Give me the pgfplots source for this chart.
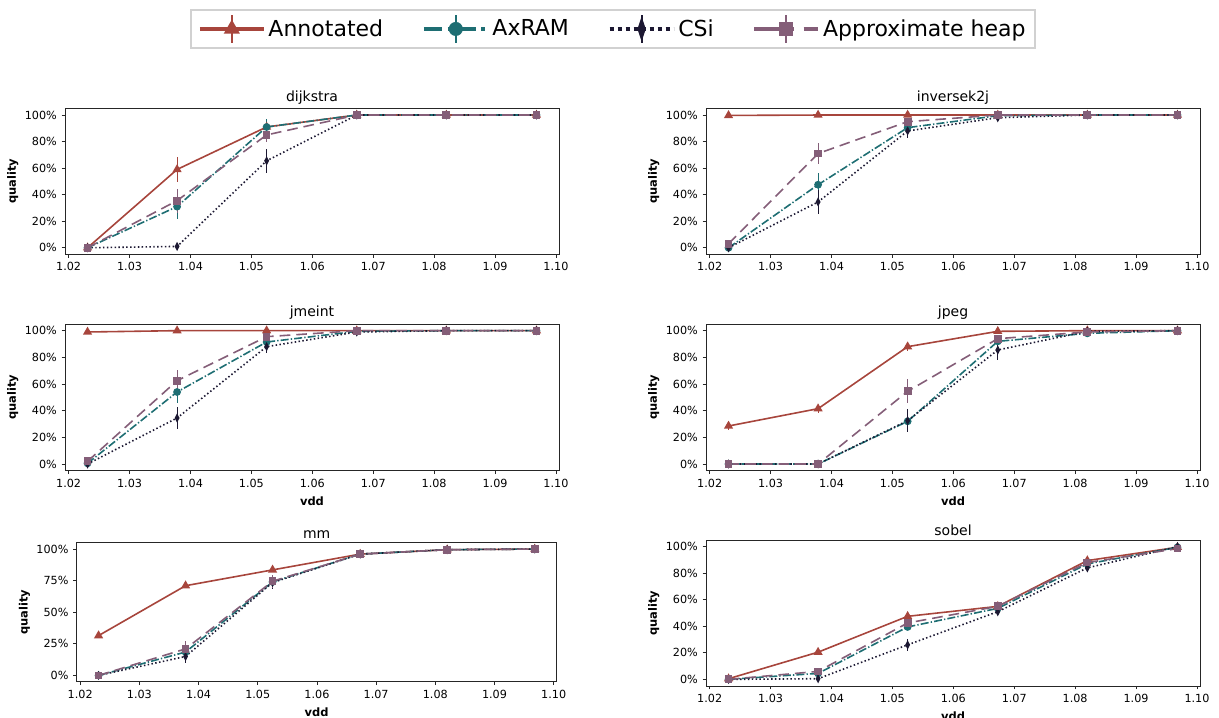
\documentclass[border=0pt]{standalone}
\usepackage{fontspec}
\setmainfont{DejaVu Sans}
\usepackage{pgfplots}
\usepackage{pgfplotstable}
\pgfplotsset{compat=1.18}

\definecolor{annoC}{RGB}{167,69,60}
\definecolor{axramC}{RGB}{30,110,115}
\definecolor{csiC}{RGB}{28,24,50}
\definecolor{heapC}{RGB}{132,94,120}

% columns: x, Annotated (a,ae), AxRAM (b,be), CSi (c,ce), Approximate heap (d,de)
\pgfplotstableread{
x a ae b be c ce d de
1.0231 0 0.5 0 0.5 0 0.3 0 0.5
1.0378 59 9.5 31 9 1 0.5 35.5 9
1.0525 91 2 91 6 65.5 9 85 5
1.0673 100 0.3 100 0.3 100 0.3 100 0.3
1.0820 100 0 100 0 100 0 100 0
1.0968 100 0 100 0 100 0 100 0
}\dijkstra
\pgfplotstableread{
x a ae b be c ce d de
1.0231 99.7 0.2 0 0.5 0 0.3 3 1
1.0378 100 0 47.5 9 34.5 9 71 8
1.0525 100 0 90.5 2 88 5 95 2
1.0673 100 0 99.5 0.5 98 1 100 0.5
1.0820 100 0 100 0 100 0 100 0
1.0968 100 0 100 0 100 0 100 0
}\inversek
\pgfplotstableread{
x a ae b be c ce d de
1.0231 99 0.5 0.5 0.5 0 0.3 2 1
1.0378 100 0 54 8 34.5 8 62.5 8
1.0525 100 0 91.5 3 88 4.5 95.5 3
1.0673 100 0 99.5 0.5 99 0.5 100 0.5
1.0820 100 0 100 0 100 0 100 0
1.0968 100 0 100 0 100 0 100 0
}\jmeint
\pgfplotstableread{
x a ae b be c ce d de
1.0231 28.5 3 0 0 0 0 0 0
1.0378 41.5 3 0 0 0 0 0 0
1.0525 88 3 32 3 32.5 8.5 54.5 9
1.0673 99.5 1 92 3 85.5 7.5 94 2
1.0820 100 0.5 98 1 99.5 1.5 99 1
1.0968 100 0 100 0 100 0 100 0
}\jpeg
\pgfplotstableread{
x a ae b be c ce d de
1.0231 31.5 0.5 0 0 0 0 0 0
1.0378 71 1 18.5 4 15 5 21 6
1.0525 83.5 1 74 4 73.5 5 74.5 5
1.0673 96 0.5 96 0.5 96 0.5 96 0.5
1.0820 99.5 0 99.5 0 99.5 0 99.5 0
1.0968 100 0 100 0 100 0 100 0
}\mm
\pgfplotstableread{
x a ae b be c ce d de
1.0231 0.5 0.5 0 0.5 0 0.3 0 0.5
1.0378 20.5 1 4.5 1 0.5 1.5 6 1.5
1.0525 47.5 1.5 39.5 2.5 26 4.5 42.5 3
1.0673 55 1 53.5 1.5 51 2.5 55 2
1.0820 89.5 2 87 2 84 3 88 2
1.0968 99.5 0.5 99.5 0.5 100 0.5 98.5 0.5
}\sobel

\pgfplotsset{
  sub/.style={
    scale only axis, width=370.5pt, height=109.5pt,
    xmin=1.0194, xmax=1.1005, ymin=-5, ymax=105,
    xtick={1.02,1.03,1.04,1.05,1.06,1.07,1.08,1.09,1.10},
    ytick={0,20,40,60,80,100},
    xticklabel style={/pgf/number format/.cd, fixed, fixed zerofill, precision=2},
    yticklabel={\pgfmathprintnumber{\tick}\%},
    /pgf/number format/assume math mode=true,
    tick label style={font=\fontsize{8.4}{10}\selectfont},
    tick align=outside, major tick length=2.6pt,
    xtick pos=left, ytick pos=left,
    tick style={black!85, line width=0.6pt},
    axis line style={black!85, line width=0.6pt},
    ylabel={\textbf{quality}},
    ylabel shift=-2pt,
    label style={font=\fontsize{8.6}{10.3}\selectfont},
    title style={font=\fontsize{10.5}{12.6}\selectfont, inner sep=1pt},
    every axis title shift=2pt,
    clip=false,
  },
  eb/.style={/pgfplots/error bars/y dir=both, /pgfplots/error bars/y explicit,
    /pgfplots/error bars/error mark=none,
    /pgfplots/error bars/error bar style={solid, line width=0.7pt}},
  anno/.style={annoC, solid, line width=1.2pt, mark=triangle*, mark size=2.8pt, mark options={solid}, eb},
  axram/.style={axramC, line width=1.2pt, dash pattern=on 6pt off 1.6pt on 1pt off 1.6pt, mark=*, mark size=2.3pt, mark options={solid}, eb},
  csi/.style={csiC, line width=1.2pt, dash pattern=on 1.1pt off 1.8pt, mark=diamond*, mark size=2.2pt, mark options={solid, xscale=0.7}, eb},
  heap/.style={heapC, line width=1.2pt, dash pattern=on 8pt off 4.5pt, mark=square*, mark size=2.3pt, mark options={solid}, eb},
}

\newcommand\fourplots[1]{%
  \addplot[forget plot, anno] table[x=x, y=a, y error=ae] {#1};
  \addplot[forget plot, axram] table[x=x, y=b, y error=be] {#1};
  \addplot[forget plot, csi] table[x=x, y=c, y error=ce] {#1};
  \addplot[forget plot, heap] table[x=x, y=d, y error=de] {#1};
}

\begin{document}
\begin{tikzpicture}
\useasboundingbox (0,0) rectangle (914.25pt,537.75pt);

% dijkstra (with legend)
\begin{axis}[sub, at={(48.75pt,456.45pt)}, anchor=north west, title={dijkstra},
  legend columns=4,
  legend style={at={(1.1093,1.544)}, anchor=center, draw=black!18, line width=1.5pt,
    fill=white, font=\fontsize{16.5}{19.8}\selectfont, inner xsep=5pt, inner ysep=3pt,
    nodes={inner sep=2pt},
    /tikz/every even column/.append style={column sep=27pt}},
  legend cell align=left]
\addlegendimage{legend image code/.code={
  \draw[annoC, line width=3pt] (0pt,0pt) -- (48pt,0pt);
  \draw[annoC, line width=1.4pt] (24pt,-10.5pt) -- (24pt,10.5pt);
  \begin{scope}[annoC, shift={(24pt,0pt)}]\pgfsetplotmarksize{5.5pt}\pgfuseplotmark{triangle*}\end{scope}
}}
\addlegendentry{Annotated}
\addlegendimage{legend image code/.code={
  \draw[axramC, line width=3pt, dash pattern=on 14pt off 4pt on 3pt off 4pt] (0pt,0pt) -- (48pt,0pt);
  \draw[axramC, line width=1.4pt] (24pt,-10.5pt) -- (24pt,10.5pt);
  \begin{scope}[axramC, shift={(24pt,0pt)}]\pgfsetplotmarksize{4.5pt}\pgfuseplotmark{*}\end{scope}
}}
\addlegendentry{AxRAM}
\addlegendimage{legend image code/.code={
  \draw[csiC, line width=3pt, dash pattern=on 3pt off 3pt] (0pt,0pt) -- (48pt,0pt);
  \draw[csiC, line width=1.4pt] (24pt,-10.5pt) -- (24pt,10.5pt);
  \begin{scope}[csiC, shift={(24pt,0pt)}, xscale=0.45]\pgfsetplotmarksize{7pt}\pgfuseplotmark{diamond*}\end{scope}
}}
\addlegendentry{CSi}
\addlegendimage{legend image code/.code={
  \draw[heapC, line width=3pt, dash pattern=on 30pt off 7pt] (0pt,0pt) -- (48pt,0pt);
  \draw[heapC, line width=1.4pt] (24pt,-10.5pt) -- (24pt,10.5pt);
  \begin{scope}[heapC, shift={(24pt,0pt)}]\pgfsetplotmarksize{4.5pt}\pgfuseplotmark{square*}\end{scope}
}}
\addlegendentry{Approximate heap}
\fourplots{\dijkstra}
\end{axis}

% inversek2j
\begin{axis}[sub, at={(529.5pt,456.45pt)}, anchor=north west, title={inversek2j}]
\fourplots{\inversek}
\end{axis}

% jmeint
\begin{axis}[sub, at={(48.75pt,294.75pt)}, anchor=north west, height=110pt, title={jmeint}, xlabel={\textbf{vdd}}]
\fourplots{\jmeint}
\end{axis}

% jpeg
\begin{axis}[sub, at={(529.5pt,294.75pt)}, anchor=north west, height=110pt, title={jpeg}, xlabel={\textbf{vdd}}]
\fourplots{\jpeg}
\end{axis}

% mm
\begin{axis}[sub, at={(57.5pt,130.7pt)}, anchor=north west, width=360pt, height=104.25pt,
  title={mm}, xlabel={\textbf{vdd}}, ytick={0,25,50,75,100}]
\fourplots{\mm}
\end{axis}

% sobel
\begin{axis}[sub, at={(529.5pt,132.75pt)}, anchor=north west, height=109.5pt, title={sobel}, xlabel={\textbf{vdd}}]
\fourplots{\sobel}
\end{axis}
\end{tikzpicture}
\end{document}
